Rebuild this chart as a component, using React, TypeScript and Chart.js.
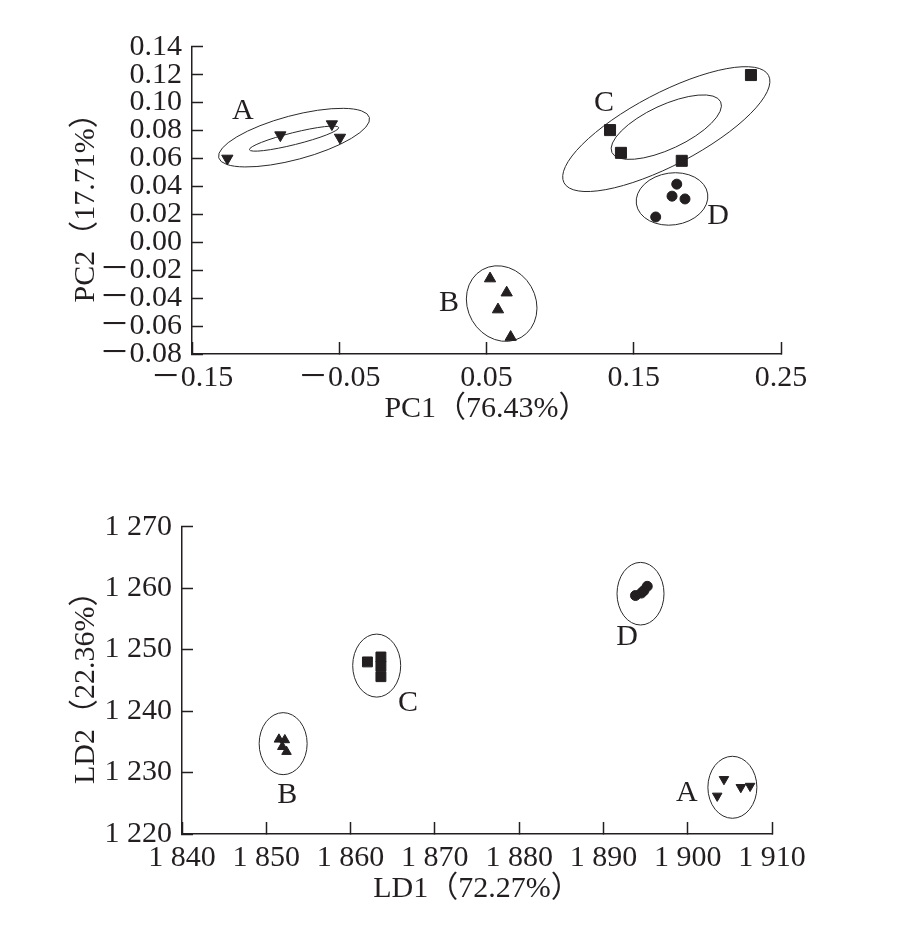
import React, { useEffect, useRef } from 'react';
import { Chart, registerables } from 'chart.js';

Chart.register(...registerables);

const FONT = "'Liberation Serif', 'Noto Sans CJK SC', serif";
const INK = '#231f20';

// ---------- PCA (top) ----------
const pcaXTitle = 'PC1（76.43%）';
const pcaYTitle = 'PC2（17.71%）';
const pcaA_x = [-0.126, -0.090, -0.055, -0.0495];
const pcaA_y = [0.060, 0.0767, 0.0846, 0.0750];
const pcaB_x = [0.0524, 0.0637, 0.0578, 0.0664];
const pcaB_y = [-0.026, -0.0361, -0.0482, -0.0679];
const pcaC_x = [0.2296, 0.1339, 0.1413, 0.1826];
const pcaC_y = [0.1197, 0.0803, 0.0640, 0.0583];
const pcaD_x = [0.1792, 0.176, 0.1848, 0.1649];
const pcaD_y = [0.0416, 0.033, 0.031, 0.0181];
// ellipse centres (data units)
const pcaEllX = [-0.0807, -0.0807, 0.1721, 0.1721, 0.176, 0.0603];
const pcaEllY = [0.0749, 0.0742, 0.081, 0.0824, 0.031, -0.0439];
// group label positions (data units)
const pcaLabelText = ['A', 'C', 'D', 'B'];
const pcaLabelX = [-0.1154, 0.1298, 0.2072, 0.0245];
const pcaLabelY = [0.0939, 0.0996, 0.0186, -0.0437];

// ---------- LDA (bottom) ----------
const ldaXTitle = 'LD1（72.27%）';
const ldaYTitle = 'LD2（22.36%）';
const ldaA_x = [1904.3, 1903.5, 1906.3, 1907.4];
const ldaA_y = [1228.9, 1226.2, 1227.6, 1227.8];
const ldaB_x = [1851.5, 1852.2, 1851.9, 1852.4];
const ldaB_y = [1235.4, 1235.3, 1234.2, 1233.4];
const ldaC_x = [1862.0, 1863.6, 1863.6, 1863.6];
const ldaC_y = [1248.0, 1248.8, 1247.3, 1245.6];
const ldaD_x = [1893.8, 1894.5, 1894.8, 1895.2];
const ldaD_y = [1258.8, 1259.2, 1259.6, 1260.3];
const ldaEllX = [1863.1, 1852.0, 1894.4, 1905.3];
const ldaEllY = [1247.4, 1234.7, 1259.1, 1227.6];
const ldaLabelText = ['C', 'B', 'D', 'A'];
const ldaLabelX = [1866.8, 1852.5, 1892.8, 1899.9];
const ldaLabelY = [1241.3, 1226.3, 1252.0, 1226.7];

// ellipse shapes (pixels / degrees) - style, not data
const pcaEllShape = [
  { a: 78, b: 22, rot: -15 },
  { a: 46, b: 6, rot: -14 },
  { a: 115.5, b: 36, rot: -27.7 },
  { a: 60, b: 22, rot: -25 },
  { a: 36, b: 26, rot: -8 },
  { a: 39, b: 34, rot: 60 },
];
const ldaEllShape = [
  { a: 24, b: 31.5, rot: 0 },
  { a: 24, b: 31, rot: 0 },
  { a: 23.5, b: 31.3, rot: 0 },
  { a: 24.5, b: 31, rot: 0 },
];

const FS = 30;

function pts(xs: number[], ys: number[]) {
  return xs.map((x, i) => ({ x, y: ys[i] }));
}

function ds(xs: number[], ys: number[], style: string, radius: number, rotation = 0) {
  return {
    data: pts(xs, ys),
    pointStyle: style,
    pointRadius: radius,
    pointRotation: rotation,
    backgroundColor: INK,
    borderColor: INK,
    borderWidth: 1,
    showLine: false,
  };
}

function overlay(ex: number[], ey: number[], shapes: any[], lt: string[], lx: number[], ly: number[]) {
  return {
    id: 'overlay',
    beforeDatasetsDraw(chart: any) {
      const { ctx, scales } = chart;
      ctx.save();
      ctx.strokeStyle = '#2a2a2a';
      ctx.lineWidth = 1;
      ex.forEach((x, i) => {
        const cx = scales.x.getPixelForValue(x);
        const cy = scales.y.getPixelForValue(ey[i]);
        const s = shapes[i];
        ctx.beginPath();
        ctx.ellipse(cx, cy, s.a, s.b, (s.rot * Math.PI) / 180, 0, Math.PI * 2);
        ctx.stroke();
      });
      ctx.restore();
    },
    afterDatasetsDraw(chart: any) {
      const { ctx, scales } = chart;
      ctx.save();
      ctx.fillStyle = INK;
      ctx.font = `${FS}px ${FONT}`;
      ctx.textAlign = 'center';
      ctx.textBaseline = 'middle';
      lt.forEach((t, i) => {
        ctx.fillText(t, scales.x.getPixelForValue(lx[i]), scales.y.getPixelForValue(ly[i]));
      });
      ctx.restore();
    },
  };
}

function axis(opts: any) {
  const { min, max, step, cb, title, horiz, fitSize, tickLen } = opts;
  return {
    type: 'linear',
    min,
    max,
    ticks: {
      stepSize: step,
      callback: cb,
      autoSkip: false,
      maxRotation: 0,
      minRotation: 0,
      color: INK,
      font: { family: FONT, size: FS },
      padding: horiz ? 18 : 21,
    },
    grid: {
      drawOnChartArea: false,
      drawTicks: true,
      tickLength: -tickLen,
      tickWidth: 1.5,
      color: INK,
    },
    border: { display: true, color: INK, width: 1.5 },
    title: {
      display: true,
      text: title,
      color: INK,
      font: { family: FONT, size: FS },
      padding: horiz ? { top: 0, bottom: 6.5 } : { top: 68, bottom: 0 },
    },
    afterFit: (s: any) => {
      if (horiz) s.height = fitSize;
      else s.width = fitSize;
    },
  };
}

const pcaFmt = (v: any) => {
  const n = Number(v);
  const s = Math.abs(n).toFixed(2);
  return n < -1e-9 ? '－' + s : s;
};
const ldaFmt = (v: any) => {
  const s = String(Math.round(Number(v)));
  return s.replace(/^(\d)(\d{3})$/, '$1 $2');
};

export default function App() {
  const topRef = useRef<HTMLCanvasElement>(null);
  const botRef = useRef<HTMLCanvasElement>(null);

  useEffect(() => {
    const common = {
      animation: false,
      responsive: false,
      devicePixelRatio: 1,
      events: [],
      plugins: { legend: { display: false }, tooltip: { enabled: false } },
    };

    const top = new Chart(topRef.current as HTMLCanvasElement, {
      type: 'scatter',
      data: {
        datasets: [
          ds(pcaA_x, pcaA_y, 'triangle', 6.5, 180),
          ds(pcaB_x, pcaB_y, 'triangle', 6.5, 0),
          ds(pcaC_x, pcaC_y, 'rect', 7.8, 0),
          ds(pcaD_x, pcaD_y, 'circle', 5, 0),
        ] as any,
      },
      options: {
        ...common,
        layout: { padding: { top: 46.7, left: 0, right: 132, bottom: 26 } },
        scales: {
          x: axis({ min: -0.15, max: 0.25, step: 0.1, cb: pcaFmt, title: pcaXTitle, horiz: true, fitSize: 80, tickLen: 12 }),
          y: axis({ min: -0.08, max: 0.14, step: 0.02, cb: pcaFmt, title: pcaYTitle, horiz: false, fitSize: 192, tickLen: 11 }),
        },
      } as any,
      plugins: [overlay(pcaEllX, pcaEllY, pcaEllShape, pcaLabelText, pcaLabelX, pcaLabelY)],
    });

    const bot = new Chart(botRef.current as HTMLCanvasElement, {
      type: 'scatter',
      data: {
        datasets: [
          ds(ldaA_x, ldaA_y, 'triangle', 5.5, 180),
          ds(ldaB_x, ldaB_y, 'triangle', 5.5, 0),
          ds(ldaC_x, ldaC_y, 'rect', 7, 0),
          ds(ldaD_x, ldaD_y, 'circle', 5, 0),
        ] as any,
      },
      options: {
        ...common,
        layout: { padding: { top: 66.7, left: 0, right: 141, bottom: 30 } },
        scales: {
          x: axis({ min: 1840, max: 1910, step: 10, cb: ldaFmt, title: ldaXTitle, horiz: true, fitSize: 80, tickLen: 12 }),
          y: axis({ min: 1220, max: 1270, step: 10, cb: ldaFmt, title: ldaYTitle, horiz: false, fitSize: 182, tickLen: 11 }),
        },
      } as any,
      plugins: [overlay(ldaEllX, ldaEllY, ldaEllShape, ldaLabelText, ldaLabelX, ldaLabelY)],
    });

    return () => {
      top.destroy();
      bot.destroy();
    };
  }, []);

  return (
    <div style={{ position: 'absolute', left: 0, top: 0, width: 913, height: 944, background: '#fff' }}>
      <canvas ref={topRef} width={913} height={460} style={{ position: 'absolute', left: 0, top: 0, width: 913, height: 460 }} />
      <canvas ref={botRef} width={913} height={484} style={{ position: 'absolute', left: 0, top: 460, width: 913, height: 484 }} />
    </div>
  );
}
